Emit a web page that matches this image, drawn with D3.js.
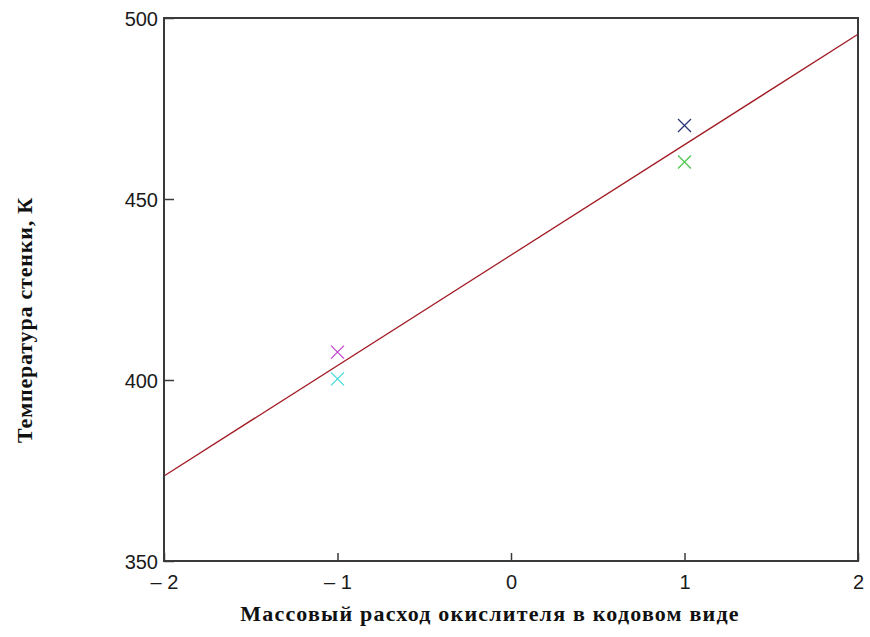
<!DOCTYPE html>
<html>
<head>
<meta charset="utf-8">
<script src="https://cdn.jsdelivr.net/npm/d3@7/dist/d3.min.js"></script>
<style>
  html, body { margin: 0; padding: 0; background: #fff; }
  svg { display: block; }
</style>
</head>
<body>
<svg id="chart" width="870" height="637"></svg>
<script>
// Fitted trend line (endpoints of the coded-variable range)
const trendX = [-2, 2];
const trendY = [373.5, 495.5];

// Measured wall temperatures at the coded levels of oxidizer flow
const pointX = [-1, -1, 1, 1];
const pointY = [407.7, 400.3, 470.3, 460.2];
const pointColors = ["#c048c8", "#48d8d8", "#283878", "#50c850"];

// Axis ticks and labels
const xTicks = [-2, -1, 0, 1, 2];
const xTickLabels = ["\u2013 2", "\u2013 1", "0", "1", "2"];
const yTicks = [350, 400, 450, 500];
const yTickLabels = ["350", "400", "450", "500"];

const xTitle = "Массовый расход окислителя в кодовом виде";
const yTitle = "Температура стенки, К";

const svg = d3.select("#chart");
const plot = { left: 164, right: 858, top: 18, bottom: 561 };

const x = d3.scaleLinear().domain([-2, 2]).range([plot.left, plot.right]);
const y = d3.scaleLinear().domain([350, 500]).range([plot.bottom, plot.top]);

// Trend line
const lineGen = d3.line().x(d => x(d[0])).y(d => y(d[1]));
svg.append("path")
  .datum(d3.zip(trendX, trendY))
  .attr("d", lineGen)
  .attr("fill", "none")
  .attr("stroke", "#a01c24")
  .attr("stroke-width", 1.3);

// Point markers (crosses)
const s = 6.5;
const pts = svg.append("g").selectAll("g")
  .data(d3.zip(pointX, pointY, pointColors))
  .join("g")
  .attr("transform", d => `translate(${x(d[0])},${y(d[1])})`);
pts.append("path")
  .attr("d", `M${-s},${-s}L${s},${s}M${-s},${s}L${s},${-s}`)
  .attr("stroke", d => d[2])
  .attr("stroke-width", 1.3)
  .attr("fill", "none");

// Axes: ticks point inward, labels placed outside the frame
const axisColor = "#3a3a3a";
const xAxis = d3.axisBottom(x).tickValues(xTicks)
  .tickFormat((d, i) => xTickLabels[i]).tickSizeInner(-8).tickSizeOuter(0).tickPadding(14);
const gx = svg.append("g").attr("transform", `translate(0,${plot.bottom})`).call(xAxis);

const yAxis = d3.axisLeft(y).tickValues(yTicks)
  .tickFormat((d, i) => yTickLabels[i]).tickSizeInner(-10).tickSizeOuter(0).tickPadding(6);
const gy = svg.append("g").attr("transform", `translate(${plot.left},0)`).call(yAxis);

[gx, gy].forEach(g => {
  g.select(".domain").remove();
  g.selectAll(".tick line").attr("stroke", axisColor).attr("stroke-width", 1.5);
  g.selectAll(".tick text")
    .attr("fill", "#1a1a1a")
    .style("font-family", "'Liberation Sans', Arial, sans-serif")
    .style("font-size", "20px");
});
gx.selectAll(".tick text").attr("dy", "0.68em");
gy.selectAll(".tick text").attr("dy", "0.35em").attr("x", -6);

// Plot frame
svg.append("rect")
  .attr("x", plot.left).attr("y", plot.top)
  .attr("width", plot.right - plot.left).attr("height", plot.bottom - plot.top)
  .attr("fill", "none").attr("stroke", axisColor).attr("stroke-width", 2);

// Axis titles
const titleFont = "'Liberation Serif', 'Times New Roman', serif";
svg.append("text")
  .attr("x", 490).attr("y", 621)
  .attr("text-anchor", "middle")
  .style("font-family", titleFont)
  .style("font-weight", "bold").style("font-size", "22px")
  .style("letter-spacing", "1.2px")
  .attr("fill", "#111")
  .text(xTitle);

svg.append("text")
  .attr("transform", "translate(32,320) rotate(-90)")
  .attr("text-anchor", "middle")
  .style("font-family", titleFont)
  .style("font-weight", "bold").style("font-size", "22px")
  .style("letter-spacing", "0.8px")
  .attr("fill", "#111")
  .text(yTitle);
</script>
</body>
</html>
